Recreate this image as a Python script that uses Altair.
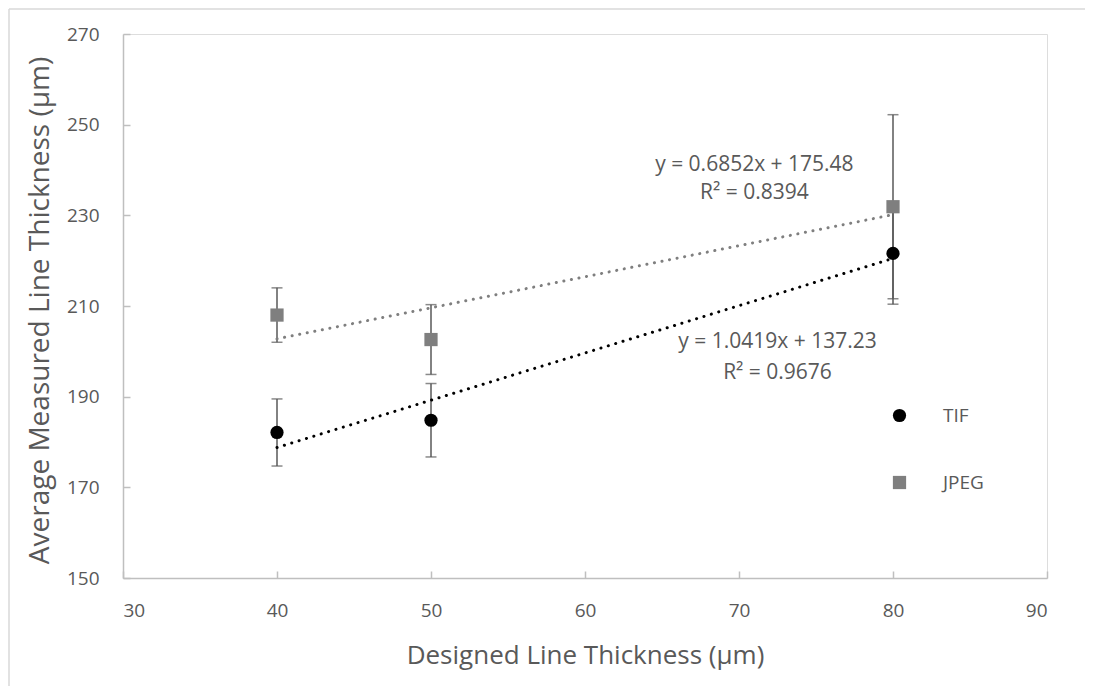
import altair as alt
import pandas as pd

# ---- data ----
designed = [40, 50, 80]
tif_mean = [182.1, 184.8, 221.6]
tif_err = [7.4, 8.1, 11.2]
jpeg_mean = [208.0, 202.6, 231.9]
jpeg_err = [6.0, 7.7, 20.3]

series_names = ["TIF", "JPEG"]
series_colors = ["#000000", "#7f7f7f"]
series_shapes = ["circle", "square"]

x_ticks = [30, 40, 50, 60, 70, 80, 90]
y_ticks = [150, 170, 190, 210, 230, 250, 270]

eq_text = ["y = 1.0419x + 137.23", "R² = 0.9676", "y = 0.6852x + 175.48", "R² = 0.8394"]
eq_x = [72.5, 72.5, 71.0, 71.0]
eq_y = [202.1, 195.2, 241.1, 234.9]

# ---- build tables ----
rows = []
for name, means, errs in [("TIF", tif_mean, tif_err), ("JPEG", jpeg_mean, jpeg_err)]:
    for xv, m, e in zip(designed, means, errs):
        rows.append({"series": name, "x": xv, "y": m, "lo": m - e, "hi": m + e})
df = pd.DataFrame(rows)
eq_df = pd.DataFrame({"x": eq_x, "y": eq_y, "text": eq_text})

FONT = "Open Sans"
TXT = "#595959"
AX = "#bfbfbf"

W, H = 924, 544

x_scale = alt.Scale(domain=[30, 90], nice=False, zero=False)
y_scale = alt.Scale(domain=[150, 270], nice=False, zero=False)

x_axis = alt.Axis(
    values=x_ticks, title="Designed Line Thickness (μm)", grid=False,
    domainColor=AX, domainWidth=1.5, tickColor=AX, tickWidth=1.5,
    tickSize={"expr": "-7"}, labelPadding=39, labelBaseline="middle",
    labelFont=FONT, labelFontSize=19, labelColor=TXT,
    titleFont=FONT, titleFontSize=26, titleColor=TXT, titleFontWeight="normal",
    titleX=W / 2, titleY=77, titleBaseline="middle",
)
y_axis = alt.Axis(
    values=y_ticks, title="Average Measured Line Thickness (μm)", grid=False,
    domainColor=AX, domainWidth=1.5, tickColor=AX, tickWidth=1.5,
    tickSize={"expr": "-7"}, labelPadding=31,
    labelFont=FONT, labelFontSize=19, labelColor=TXT,
    titleFont=FONT, titleFontSize=28, titleColor=TXT, titleFontWeight="normal",
    titleX=-83, titleY=H / 2 + 4, titleBaseline="middle", titleAngle=-90,
)

X = alt.X("x:Q", scale=x_scale, axis=x_axis)
Y = alt.Y("y:Q", scale=y_scale, axis=y_axis)

color_scale = alt.Scale(domain=series_names, range=series_colors)
shape_scale = alt.Scale(domain=series_names, range=series_shapes)

base = alt.Chart(df)

border = alt.Chart(alt.Data(values=[{}])).mark_rule(color="#d9d9d9", strokeWidth=1.5).encode(
    x=alt.value(-114), x2=alt.value(1100), y=alt.value(-25)
)
border2 = alt.Chart(alt.Data(values=[{}])).mark_rule(color="#d9d9d9", strokeWidth=1.5).encode(
    x=alt.value(-114), y=alt.value(-25), y2=alt.value(700)
)

err_rule = base.mark_rule(color="#595959", strokeWidth=1.5).encode(
    x=X, y=alt.Y("lo:Q", scale=y_scale, axis=y_axis), y2="hi:Q"
)
cap_lo = base.mark_tick(orient="horizontal", size=11, thickness=1.5, color="#595959").encode(
    x=X, y=alt.Y("lo:Q", scale=y_scale, axis=y_axis)
)
cap_hi = base.mark_tick(orient="horizontal", size=11, thickness=1.5, color="#595959").encode(
    x=X, y=alt.Y("hi:Q", scale=y_scale, axis=y_axis)
)

trends = []
for name, col in zip(series_names, series_colors):
    trends.append(
        base.transform_filter(alt.datum.series == name)
        .transform_regression("x", "y", extent=[40, 80])
        .mark_line(strokeDash=[0.1, 7.6], strokeWidth=3, strokeCap="round", color=col)
        .encode(x=X, y=Y)
    )

leg = alt.Legend(
    orient="none", legendX=767, legendY=372, title=None,
    labelFont=FONT, labelFontSize=19, labelColor=TXT,
    symbolSize=175, labelOffset=34, rowPadding=46, padding=0,
    symbolOpacity=1,
)
points = base.mark_point(filled=True, size=175, opacity=1).encode(
    x=X, y=Y,
    color=alt.Color("series:N", scale=color_scale, legend=leg),
    shape=alt.Shape("series:N", scale=shape_scale, legend=leg),
)

eqs = alt.Chart(eq_df).mark_text(font=FONT, fontSize=21, color=TXT, align="center", baseline="middle").encode(
    x=X, y=Y, text="text:N"
)

chart = alt.layer(border, border2, err_rule, cap_lo, cap_hi, *trends, points, eqs).properties(
    width=W, height=H,
    autosize=alt.AutoSizeParams(type="none"),
    padding={"left": 115, "top": 26, "right": 38, "bottom": 108},
).configure_view(stroke=None).configure(background="white")

chart.save("out.html", embed_options={"renderer": "svg", "actions": False})
